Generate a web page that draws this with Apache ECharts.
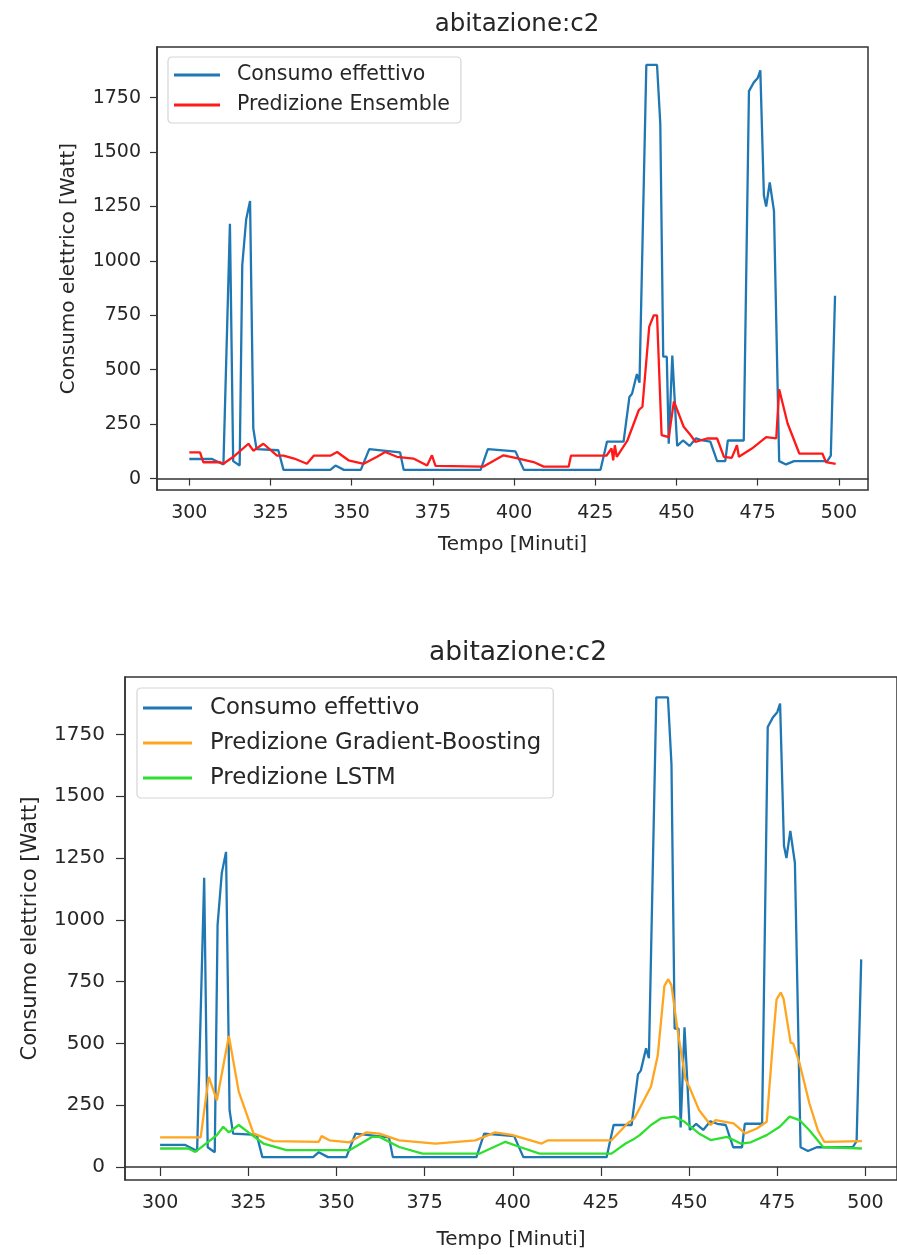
<!DOCTYPE html>
<html>
<head>
<meta charset="utf-8">
<script src="https://cdn.jsdelivr.net/npm/echarts@6/dist/echarts.min.js"></script>
<style>
html,body{margin:0;padding:0;background:#fff;}
#c{width:897px;height:1255px;}
</style>
</head>
<body>
<div id="c"></div>
<script>
// Tick labels
const xTicks = [300, 325, 350, 375, 400, 425, 450, 475, 500];
const yTicks = [0, 250, 500, 750, 1000, 1250, 1500, 1750];

// Consumo effettivo (breakpoints: minute, watt)
const consumoT = [300,307,310.5,312.5,313.5,315.5,316.3,317.5,318.7,319.7,320.7,327.4,329,343.4,345,347.6,352.8,355.4,364.9,366,389.7,391.9,400.4,403,426.6,428.6,433.7,435.5,436.3,437.8,438.6,440.7,444,445,445.9,447,447.6,448.7,450.2,452,454,456,458,460.4,462.5,465,465.8,470.7,472.3,473.8,475,475.8,476.9,477.6,478.7,480,481.6,483.7,486.2,496.4,497.5,498.8];
const consumoV = [90,90,65,1170,80,60,980,1190,1275,230,135,130,40,40,60,40,40,135,120,40,40,135,125,40,40,170,170,375,390,480,440,1900,1900,1630,560,560,160,565,150,175,150,185,175,170,80,80,175,175,1780,1820,1840,1875,1300,1250,1360,1230,80,65,80,80,105,840];

// Predizione Ensemble
const ensembleT = [300,303.3,304.3,309.5,310.5,314,318.2,319.7,322.8,327,329,332.3,336.2,338.3,343.4,345.5,349,353.7,357.8,360.3,363.9,369,373.2,374.7,375.8,390.6,396.7,400.4,406,409.1,416.8,417.5,428.4,430,430.5,431,431.6,434.9,438.4,439.5,441.6,443,444,445.4,447.6,449.2,452.2,454.3,455.8,459.4,462.5,464.6,467,468.6,469.2,473.2,477.6,480.7,481.6,484.2,487.8,494.9,496,499];
const ensembleV = [120,120,75,75,68,105,160,128,160,105,105,92,68,105,105,122,84,68,100,122,100,92,60,107,58,55,107,95,76,55,55,105,105,138,84,153,100,176,315,330,698,750,750,200,190,355,238,200,169,184,184,100,95,153,100,138,190,185,410,253,115,115,76,68];

// Predizione Gradient-Boosting
const gbT = [300,311.5,313.8,316.1,319.5,322.3,326.5,332.1,345,345.8,348,353.7,358.4,362.2,367.8,378.1,389.4,395,399.7,408.2,410,428,432.6,434.5,439.2,441.1,443,444.1,445,446.7,449,450,452.8,456.1,457.5,462.6,465.9,469.2,472,473.9,474.8,476,476.8,478.8,479.5,481.3,484.1,486.5,488.3,499];
const gbV = [120,120,365,270,530,305,135,105,102,125,108,100,140,135,108,95,108,140,130,95,108,108,177,197,326,450,733,760,735,556,353,326,231,170,190,177,136,156,183,529,678,706,680,502,500,421,258,149,102,105];

// Predizione LSTM
const lstmT = [300,308,310,316.1,317.9,319.5,322.3,326.1,329.3,335.9,353.7,360.2,362.2,367.8,374.4,390.5,397.9,402,407.6,428,432,434,436,439.2,442.1,445.8,448.7,452.8,456.1,460.8,464.6,467.5,472,475.7,478.5,481.3,484.1,488,499];
const lstmV = [75,75,61,129,163,140,170,129,95,68,68,122,122,81,54,54,102,81,54,54,95,110,129,170,197,204,183,136,109,122,95,100,129,163,204,190,149,81,75];

function pairs(t, v) { return t.map((x, i) => [x, v[i]]); }

const C_BLUE = '#1f77b4', C_RED = '#ff1a1a', C_ORANGE = '#ffa51f', C_GREEN = '#2ee02e';
const FONT = 'DejaVu Sans';
const TXT = '#262626';

function xAxisCfg(gi, fs, tickLen, margin, nameGap) {
  return {
    type: 'value', gridIndex: gi, min: 290.05, max: 508.95,
    name: 'Tempo [Minuti]', nameLocation: 'middle', nameGap: nameGap,
    nameTextStyle: { fontFamily: FONT, fontSize: fs + 1, color: TXT },
    axisLine: { show: true, lineStyle: { color: '#333', width: 1.5 } },
    axisTick: { show: true, length: tickLen, customValues: xTicks, lineStyle: { color: '#333', width: 1.2 } },
    axisLabel: { customValues: xTicks, formatter: v => String(v), fontFamily: FONT, fontSize: fs, color: TXT, margin: margin },
    splitLine: { show: false }
  };
}
function yAxisCfg(gi, fs, tickLen, margin, nameGap) {
  return {
    type: 'value', gridIndex: gi, min: -52.5, max: 1982.5,
    name: 'Consumo elettrico [Watt]', nameLocation: 'middle', nameGap: nameGap,
    nameTextStyle: { fontFamily: FONT, fontSize: fs + 1, color: TXT },
    axisLine: { show: true, lineStyle: { color: '#333', width: 1.5 } },
    axisTick: { show: true, length: tickLen, customValues: yTicks, lineStyle: { color: '#333', width: 1.2 } },
    axisLabel: { customValues: yTicks, formatter: v => String(v), fontFamily: FONT, fontSize: fs, color: TXT, margin: margin },
    splitLine: { show: false }
  };
}
function lineSeries(name, data, color, gi) {
  return {
    type: 'line', name: name, data: data, xAxisIndex: gi, yAxisIndex: gi,
    showSymbol: false, symbol: 'none', smooth: false,
    lineStyle: { color: color, width: 2.3 }, itemStyle: { color: color },
    emphasis: { disabled: true }
  };
}

const chart = echarts.init(document.getElementById('c'), null, { renderer: 'canvas' });
chart.setOption({
  animation: false,
  backgroundColor: '#fff',
  title: [
    { text: 'abitazione:c2', left: 512, top: 7, textAlign: 'center',
      textStyle: { fontFamily: FONT, fontSize: 24.5, fontWeight: 'normal', color: TXT } },
    { text: 'abitazione:c2', left: 513, top: 635, textAlign: 'center',
      textStyle: { fontFamily: FONT, fontSize: 26.5, fontWeight: 'normal', color: TXT } }
  ],
  grid: [
    { left: 157, top: 47, width: 711, height: 443, show: true, borderColor: '#333', borderWidth: 1.5, backgroundColor: '#fff' },
    { left: 125, top: 677, width: 776, height: 503, show: true, borderColor: '#333', borderWidth: 1.5, backgroundColor: '#fff' }
  ],
  xAxis: [ xAxisCfg(0, 19, 7, 14, 45), xAxisCfg(1, 19, 9, 14, 50) ],
  yAxis: [ yAxisCfg(0, 19, 7, 16, 78), yAxisCfg(1, 20, 9, 20, 84) ],
  legend: [
    { data: ['Consumo effettivo', 'Predizione Ensemble'], orient: 'vertical',
      left: 168, top: 57, padding: [7, 11, 7, 6], itemGap: 8,
      icon: 'rect', itemWidth: 46, itemHeight: 3,
      backgroundColor: 'rgba(255,255,255,0.85)', borderColor: '#d5d5d5', borderWidth: 1.2, borderRadius: 4,
      textStyle: { fontFamily: FONT, fontSize: 20.5, color: TXT, lineHeight: 22, padding: [0, 0, 0, 12] },
      selectedMode: false },
    { data: ['Consumo effettivo ', 'Predizione Gradient-Boosting', 'Predizione LSTM'], orient: 'vertical',
      left: 137, top: 688, padding: [8, 12, 8, 6], itemGap: 11,
      icon: 'rect', itemWidth: 49, itemHeight: 3,
      backgroundColor: 'rgba(255,255,255,0.85)', borderColor: '#d5d5d5', borderWidth: 1.2, borderRadius: 4,
      textStyle: { fontFamily: FONT, fontSize: 22.8, color: TXT, lineHeight: 24, padding: [0, 0, 0, 13] },
      selectedMode: false }
  ],
  series: [
    lineSeries('Consumo effettivo', pairs(consumoT, consumoV), C_BLUE, 0),
    lineSeries('Predizione Ensemble', pairs(ensembleT, ensembleV), C_RED, 0),
    lineSeries('Consumo effettivo ', pairs(consumoT, consumoV), C_BLUE, 1),
    lineSeries('Predizione Gradient-Boosting', pairs(gbT, gbV), C_ORANGE, 1),
    lineSeries('Predizione LSTM', pairs(lstmT, lstmV), C_GREEN, 1)
  ]
});
</script>
</body>
</html>
